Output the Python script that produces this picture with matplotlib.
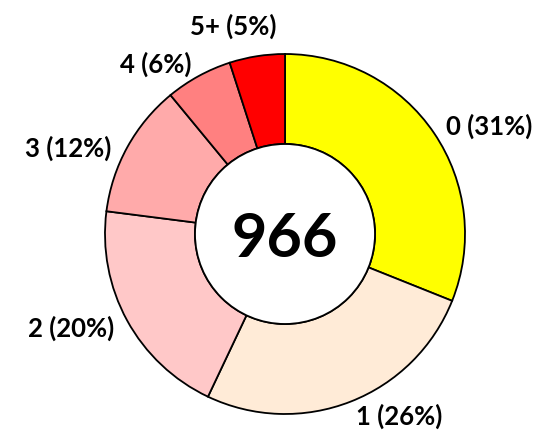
import matplotlib.pyplot as plt

categories = ["0", "1", "2", "3", "4", "5+"]
counts = [300, 251, 193, 116, 58, 48]
colors = ["#FFFF00", "#FFEBD7", "#FFC8C8", "#FFAAAA", "#FF8080", "#FF0000"]

total = sum(counts)
labels = [f"{c} ({round(100 * n / total)}%)" for c, n in zip(categories, counts)]

plt.rcParams['font.family'] = ['Lato', 'DejaVu Sans']

fig = plt.figure(figsize=(5.45, 4.35), dpi=100)
ax = fig.add_axes([0, 0, 1, 1])

wedges, texts = ax.pie(
    counts, labels=labels, colors=colors, startangle=90, counterclock=False,
    radius=1, labeldistance=1.08,
    wedgeprops=dict(width=0.5, edgecolor="black", linewidth=1.3),
    textprops=dict(fontsize=18.5, fontweight="bold", color="black"),
)
ax.add_patch(plt.Circle((0, 0), 0.5, facecolor="white", edgecolor="black", linewidth=1.3))
ax.text(0, -0.02, str(total), ha="center", va="center", fontsize=44, fontweight="bold")

# small nudges to match the original label placement
x, y = texts[5].get_position()
texts[5].set_position((x + 0.12, y + 0.09))
x, y = texts[3].get_position()
texts[3].set_position((x - 0.02, y - 0.04))

# centre at (285, 235) px, 180 px per unit
ax.set_xlim(-285 / 180, 260 / 180)
ax.set_ylim(-200 / 180, 235 / 180)
ax.set_aspect("equal")
ax.axis("off")

fig.savefig("out.png", dpi=100)
